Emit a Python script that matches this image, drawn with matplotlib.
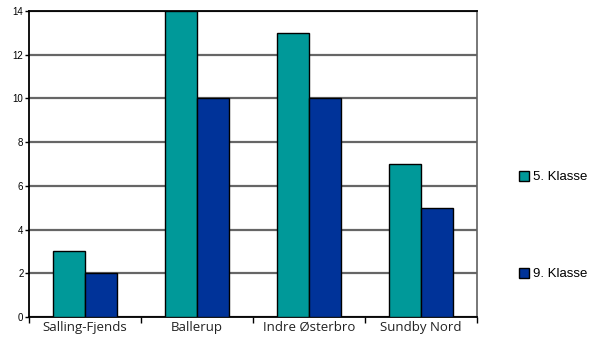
import matplotlib
matplotlib.use("Agg")
import matplotlib.pyplot as plt
import numpy as np

categories = ["Salling-Fjends", "Ballerup", "Indre Østerbro", "Sundby Nord"]
series_names = ["5. Klasse", "9. Klasse"]
klasse5 = [3, 14, 13, 7]
klasse9 = [2, 10, 10, 5]
colors = ["#009999", "#003399"]

fig = plt.figure(figsize=(5.96, 3.42), dpi=100)
ax = fig.add_axes([29/596, 25/342, 448/596, 306/342])

x = np.arange(len(categories))
w = 0.2857
b1 = ax.bar(x - w/2, klasse5, width=w, color=colors[0], edgecolor="black", linewidth=1, zorder=3, label=series_names[0])
b2 = ax.bar(x + w/2, klasse9, width=w, color=colors[1], edgecolor="black", linewidth=1, zorder=3, label=series_names[1])

ax.set_xlim(-0.5, len(categories) - 0.5)
ax.set_ylim(0, 14)
ax.set_yticks(range(0, 15, 2))
ax.yaxis.grid(True, color="#666666", linewidth=1.6, zorder=0)
ax.set_axisbelow(True)

ax.set_xticks(np.arange(-0.5, len(categories), 1.0))
ax.set_xticklabels([])
ax.set_xticks(x, minor=True)
ax.set_xticklabels(categories, minor=True, fontfamily="Open Sans", fontsize=9.5, color="#222222")
ax.tick_params(axis="x", which="minor", length=0, pad=3)
ax.tick_params(axis="x", which="major", length=4, width=1, direction="out")
ax.tick_params(axis="y", length=3, width=1, direction="out", labelsize=7, pad=1)
for lbl in ax.get_yticklabels():
    lbl.set_fontfamily("Liberation Sans")

for s in ["left", "bottom", "top"]:
    ax.spines[s].set_color("black")
    ax.spines[s].set_linewidth(1.3)
ax.spines["right"].set_color("#606060")
ax.spines["right"].set_linewidth(1.2)

leg = fig.legend(handles=[b1, b2], labels=series_names, loc="upper left",
                 bbox_to_anchor=(512/596, 1 - 164/342), frameon=False,
                 prop={"family": "Liberation Sans", "size": 9.5},
                 handlelength=0.8, handleheight=0.8, handletextpad=0.3,
                 labelspacing=6.4, borderpad=0)

fig.savefig("out.png", dpi=100)
